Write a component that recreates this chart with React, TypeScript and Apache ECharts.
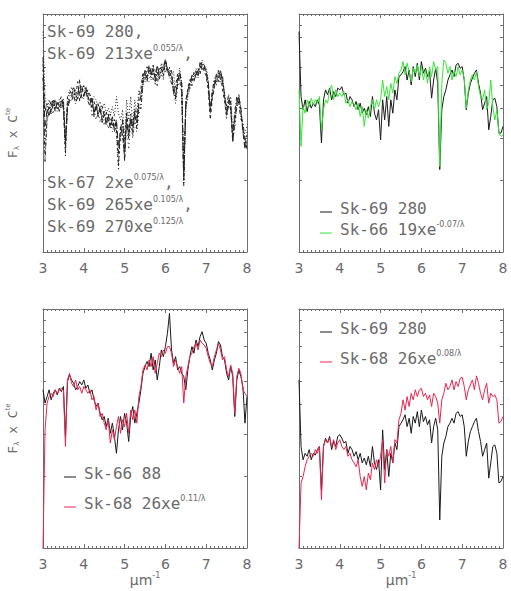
import React, { useEffect, useRef } from "react";
import * as echarts from "echarts";

// Wavenumber grid (μm^-1)
const waveNumber = [
  3.0, 3.05, 3.1, 3.15, 3.2, 3.25, 3.3, 3.35, 3.4, 3.45,
  3.5, 3.55, 3.6, 3.65, 3.7, 3.75, 3.8, 3.85, 3.9, 3.95,
  4.0, 4.05, 4.1, 4.15, 4.2, 4.25, 4.3, 4.35, 4.4, 4.45,
  4.5, 4.55, 4.6, 4.65, 4.7, 4.75, 4.8, 4.85, 4.9, 4.95,
  5.0, 5.05, 5.1, 5.15, 5.2, 5.25, 5.3, 5.35, 5.4, 5.45,
  5.5, 5.55, 5.6, 5.65, 5.7, 5.75, 5.8, 5.85, 5.9, 5.95,
  6.0, 6.05, 6.1, 6.15, 6.2, 6.25, 6.3, 6.35, 6.4, 6.45,
  6.5, 6.55, 6.6, 6.65, 6.7, 6.75, 6.8, 6.85, 6.9, 6.95,
  7.0, 7.05, 7.1, 7.15, 7.2, 7.25, 7.3, 7.35, 7.4, 7.45,
  7.5, 7.55, 7.6, 7.65, 7.7, 7.75, 7.8, 7.85, 7.9, 7.95,
  8.0,
];

// Panel 1 & 2: Sk-69 280
const sk69_280 = [
  8.43, 4.5, 3.96, 4.36, 3.89, 4.29, 4.02, 4.22, 4.08, 4.36,
  4.15, 2.87, 4.36, 4.8, 4.58, 4.88, 4.36, 4.72, 4.5, 4.88,
  4.8, 4.95, 4.58, 4.65, 4.22, 4.5, 4.36, 4.08, 4.29, 3.96,
  4.22, 3.83, 4.02, 3.77, 4.08, 3.71, 4.5, 3.83, 3.59, 3.96,
  2.96, 4.36, 3.59, 4.5, 3.37, 4.36, 3.83, 4.8, 4.36, 5.46,
  5.55, 5.73, 6.01, 5.28, 5.82, 5.03, 6.01, 5.46, 6.21, 5.28,
  6.31, 5.64, 5.92, 5.46, 5.73, 4.43, 5.28, 5.92, 5.11, 2.22,
  3.96, 4.5, 4.8, 5.28, 5.55, 5.82, 5.46, 6.11, 6.21, 5.92,
  6.01, 5.28, 3.96, 4.65, 5.11, 5.37, 5.64, 5.82, 5.11, 4.65,
  3.96, 4.22, 4.5, 3.26, 3.71, 4.36, 4.43, 4.08, 3.16, 3.16,
  3.37,
];

// Panel 1 comparison stars
const sk69_213 = [
  6.2, 3.9, 4.2, 4.0, 4.3, 4.1, 4.4, 4.0, 4.3, 4.5,
  4.2, 2.6, 4.5, 4.6, 4.9, 4.7, 4.5, 5.2, 4.3, 4.7,
  5.0, 4.6, 4.8, 4.4, 4.0, 4.3, 3.9, 4.2, 3.8, 4.1,
  3.7, 3.9, 3.5, 3.8, 3.4, 3.6, 3.3, 2.3, 3.4, 3.1,
  2.5, 3.9, 3.2, 3.8, 3.4, 4.0, 3.6, 4.4, 4.9, 5.7,
  5.3, 6.0, 5.6, 5.9, 5.3, 5.6, 5.0, 5.8, 6.0, 5.5,
  6.4, 5.9, 5.4, 5.8, 4.6, 5.0, 5.6, 5.2, 4.7, 2.0,
  4.2, 4.9, 5.3, 5.0, 5.7, 5.4, 5.9, 5.6, 6.1, 5.7,
  5.5, 4.8, 3.6, 4.4, 4.9, 5.5, 5.2, 5.6, 4.8, 4.3,
  3.7, 4.4, 4.1, 2.9, 3.5, 4.1, 4.6, 3.8, 3.3, 2.8,
  3.1,
];
const sk67_2 = [
  5.4, 2.4, 3.7, 4.1, 3.8, 4.2, 3.9, 4.3, 4.1, 4.0,
  4.4, 3.0, 4.1, 4.4, 4.3, 4.6, 4.2, 4.5, 5.3, 4.4,
  4.6, 4.8, 4.3, 4.1, 4.4, 3.7, 4.1, 3.8, 4.0, 3.6,
  3.9, 3.5, 3.7, 3.3, 3.6, 3.2, 3.5, 2.8, 3.0, 3.5,
  2.4, 3.6, 3.0, 3.7, 3.1, 3.9, 3.3, 4.1, 4.0, 5.1,
  5.6, 5.2, 5.8, 5.5, 6.1, 5.2, 5.7, 5.3, 5.8, 6.2,
  5.7, 6.0, 5.5, 5.1, 4.8, 4.4, 5.4, 5.6, 5.0, 1.9,
  4.4, 4.6, 5.0, 5.4, 5.2, 5.7, 5.4, 6.3, 5.8, 6.0,
  5.6, 5.0, 4.0, 4.8, 5.3, 5.0, 5.8, 5.3, 5.5, 4.5,
  4.1, 4.6, 3.9, 3.1, 3.9, 4.5, 4.2, 3.6, 3.5, 3.0,
  2.7,
];
const sk69_265 = [
  5.8, 2.7, 3.5, 3.9, 4.0, 3.8, 4.2, 3.9, 4.4, 4.1,
  4.3, 2.5, 4.2, 4.5, 4.7, 4.4, 4.8, 4.6, 4.9, 4.5,
  4.4, 4.7, 4.4, 4.6, 3.7, 4.0, 3.6, 3.9, 3.5, 3.8,
  3.4, 3.7, 3.3, 3.6, 3.2, 3.5, 3.1, 2.2, 3.2, 3.0,
  2.6, 3.4, 2.7, 3.5, 3.0, 3.6, 3.2, 3.8, 4.2, 5.0,
  5.2, 5.5, 5.2, 5.8, 5.6, 5.9, 5.3, 5.9, 5.5, 6.0,
  6.2, 5.7, 6.0, 5.3, 4.7, 4.2, 4.9, 5.4, 4.9, 1.95,
  4.0, 4.7, 5.2, 5.6, 5.3, 5.9, 5.6, 5.8, 6.4, 5.9,
  5.8, 5.1, 3.8, 4.6, 5.4, 5.2, 5.5, 5.1, 5.4, 4.4,
  3.6, 4.3, 4.0, 3.0, 3.3, 4.0, 4.4, 3.9, 3.4, 2.9,
  3.2,
];
const sk69_270 = [
  6.6, 3.2, 4.0, 3.7, 4.1, 4.4, 4.0, 4.2, 3.9, 4.3,
  4.0, 2.8, 4.0, 4.3, 4.5, 4.9, 4.6, 4.4, 4.7, 5.0,
  4.5, 4.9, 4.5, 4.2, 4.5, 3.8, 4.2, 3.7, 4.1, 3.5,
  3.8, 3.4, 3.8, 3.4, 3.7, 3.3, 3.6, 2.6, 3.3, 3.6,
  2.7, 3.7, 3.1, 3.6, 3.3, 3.8, 3.5, 4.2, 4.5, 5.3,
  5.8, 5.4, 6.1, 5.6, 5.9, 5.4, 6.1, 5.6, 5.7, 5.8,
  6.5, 5.8, 5.7, 5.5, 5.0, 4.5, 5.1, 5.7, 5.1, 2.1,
  4.1, 4.8, 5.1, 5.5, 5.5, 5.6, 5.8, 5.9, 6.3, 6.1,
  5.7, 5.2, 3.9, 4.5, 5.0, 5.6, 5.4, 5.8, 5.2, 4.6,
  3.8, 4.1, 4.3, 2.9, 3.6, 4.2, 4.5, 4.0, 3.2, 2.7,
  3.0,
];

// Panel 2: Sk-66 19
const sk66_19 = [
  4.8, 2.78, 4.08, 3.83, 4.36, 4.08, 4.43, 4.15, 4.36, 4.22,
  4.5, 3.26, 3.96, 4.36, 4.22, 4.8, 5.03, 4.36, 4.8, 4.5,
  4.65, 4.5, 4.72, 4.22, 4.36, 4.08, 4.29, 4.15, 3.96, 4.22,
  3.71, 4.08, 3.37, 3.96, 3.65, 4.08, 4.36, 3.96, 4.36, 4.08,
  4.36, 5.28, 4.5, 4.95, 4.36, 5.11, 4.65, 5.46, 5.11, 5.64,
  5.82, 6.31, 5.55, 6.21, 5.73, 5.2, 5.92, 5.64, 6.11, 5.46,
  6.01, 5.28, 5.82, 5.11, 6.01, 5.46, 6.31, 5.82, 6.01, 2.29,
  5.11, 6.41, 6.21, 5.64, 6.01, 5.28, 5.73, 5.46, 6.01, 5.55,
  5.82, 5.37, 4.02, 4.8, 5.28, 5.55, 5.28, 5.73, 4.95, 4.5,
  4.36, 4.8, 3.96, 4.22, 5.28, 4.08, 3.59, 3.96, 3.16, 3.06,
  3.11,
];

// Panel 3: Sk-66 88 and Sk-68 26 (x e^{0.11/λ})
const sk66_88 = [
  4.59, 4.04, 4.3, 4.59, 4.17, 4.44, 4.59, 4.37, 4.66, 4.51,
  4.74, 2.93, 4.97, 5.3, 5.05, 4.89, 4.59, 4.74, 4.97, 4.81,
  5.05, 4.66, 4.81, 4.44, 4.59, 4.17, 3.91, 4.04, 3.66, 3.44,
  3.55, 3.22, 3.49, 3.02, 3.33, 2.93, 2.49, 3.12, 3.55, 3.12,
  3.66, 3.33, 2.79, 3.55, 3.91, 3.33, 3.66, 4.04, 4.59, 5.38,
  5.74, 6.03, 5.74, 6.53, 5.56, 6.12, 5.05, 5.74, 6.74, 6.32,
  6.96, 7.91, 9.59, 6.74, 5.93, 6.32, 5.56, 5.74, 5.38, 5.22,
  4.59, 5.56, 6.32, 6.96, 6.53, 7.42, 6.96, 7.66, 8.04, 7.42,
  7.19, 6.53, 6.12, 5.56, 6.12, 6.53, 7.31, 7.07, 6.32, 6.12,
  5.38, 5.05, 5.74, 5.22, 3.55, 5.05, 5.56, 5.22, 4.74, 3.33,
  4.3,
];
const sk68_26_p3 = [
  1.0, 3.12, 4.04, 4.3, 4.44, 4.3, 4.59, 4.44, 4.59, 4.66,
  4.59, 2.66, 5.05, 5.38, 4.89, 4.74, 5.05, 4.59, 4.74, 4.44,
  4.74, 4.59, 4.44, 4.59, 4.17, 4.3, 3.78, 4.04, 3.55, 3.66,
  3.33, 3.12, 3.44, 2.75, 3.12, 2.84, 3.22, 3.55, 3.02, 3.44,
  3.22, 3.66, 3.02, 3.78, 3.44, 3.78, 3.33, 4.3, 4.74, 5.56,
  5.83, 5.56, 6.12, 5.74, 6.32, 5.38, 5.93, 6.53, 6.32, 6.74,
  6.53, 6.96, 6.96, 6.53, 5.74, 6.12, 5.74, 5.38, 5.74, 4.04,
  5.22, 5.74, 6.32, 6.53, 6.96, 7.19, 6.74, 7.42, 7.19, 7.07,
  6.85, 6.32, 5.93, 5.74, 6.32, 6.74, 7.19, 6.74, 6.12, 6.32,
  5.56, 5.22, 5.83, 5.38, 3.66, 5.22, 5.65, 5.38, 4.59, 4.44,
  4.3,
];

// Panel 4: Sk-69 280 and Sk-68 26 (x e^{0.08/λ})
const sk69_280_p4 = [
  5.05, 2.66, 2.34, 2.49, 2.42, 2.58, 2.34, 2.49, 2.45, 2.58,
  2.66, 1.75, 2.66, 2.88, 2.75, 2.93, 2.58, 2.79, 2.66, 2.93,
  2.98, 2.88, 2.75, 2.79, 2.49, 2.66, 2.58, 2.42, 2.53, 2.34,
  2.49, 2.27, 2.38, 2.23, 2.42, 2.19, 2.66, 2.27, 2.13, 2.34,
  1.75, 3.12, 2.13, 2.58, 1.99, 2.49, 2.27, 2.75, 2.58, 3.22,
  3.33, 3.44, 3.61, 3.22, 3.49, 3.02, 3.55, 3.33, 3.72, 3.22,
  3.78, 3.38, 3.55, 3.28, 3.44, 2.75, 3.22, 3.49, 3.12, 1.31,
  2.42, 2.75, 2.93, 3.22, 3.33, 3.49, 3.33, 3.66, 3.72, 3.55,
  3.61, 3.22, 2.42, 2.79, 3.07, 3.22, 3.38, 3.49, 3.07, 2.79,
  2.42, 2.58, 2.75, 1.96, 2.27, 2.66, 2.7, 2.49, 1.87, 1.9,
  1.99,
];
const sk68_26_p4 = [
  1.0, 1.87, 1.99, 2.19, 2.34, 2.42, 2.49, 2.42, 2.58, 2.49,
  2.66, 1.59, 2.66, 2.84, 2.75, 2.88, 2.66, 2.84, 2.58, 2.75,
  2.84, 2.66, 2.58, 2.66, 2.42, 2.49, 2.34, 2.27, 2.19, 2.34,
  1.99, 1.81, 1.99, 1.75, 2.06, 1.93, 2.27, 2.13, 2.34, 2.19,
  2.42, 2.84, 1.87, 2.58, 2.42, 2.66, 2.27, 2.84, 2.75, 3.44,
  3.66, 4.17, 3.78, 4.3, 3.91, 4.44, 4.17, 4.59, 4.3, 4.59,
  4.66, 4.3, 4.44, 4.17, 4.37, 3.91, 4.44, 4.3, 4.04, 3.33,
  4.17, 4.44, 4.89, 4.59, 4.74, 5.05, 4.59, 4.97, 4.74, 5.13,
  5.18, 4.74, 4.17, 4.59, 4.81, 5.05, 4.59, 5.25, 4.89, 4.44,
  4.17, 4.59, 4.89, 4.04, 4.44, 4.3, 4.37, 4.17, 3.33, 3.38,
  3.55,
];

const xTicks = [3, 4, 5, 6, 7, 8];

const AXIS_COLOR = "#6e6e6e";
const TEXT_COLOR = "#6a6a6a";
const FONT = "DejaVu Sans";
const LABEL_FONT = "DejaVu Sans Mono";
const BLACK = "#1a1a1a";
const GREEN = "#36e636";
const RED = "#e8264f";

const grids = [
  { left: 43, top: 14, width: 204, height: 238 },
  { left: 299, top: 14, width: 204, height: 238 },
  { left: 43, top: 309, width: 204, height: 239 },
  { left: 299, top: 309, width: 204, height: 239 },
];

const pairs = (ys: number[]) => waveNumber.map((x, i) => [x, ys[i]]);

function makeXAxes(gi: number, withName: boolean) {
  const common: any = {
    type: "value",
    gridIndex: gi,
    min: xTicks[0],
    max: xTicks[xTicks.length - 1],
    interval: 1,
    axisLine: { show: true, onZero: false, lineStyle: { color: AXIS_COLOR, width: 1 } },
    axisTick: { show: true, inside: true, length: 4, lineStyle: { color: AXIS_COLOR } },
    minorTick: { show: true, splitNumber: 10, length: 2, lineStyle: { color: AXIS_COLOR } },
    splitLine: { show: false },
  };
  return [
    {
      ...common,
      position: "bottom",
      axisLabel: { show: true, color: TEXT_COLOR, fontSize: 14, fontFamily: FONT, margin: 9 },
      name: withName ? "{a|μm}{s|-1}" : "",
      nameLocation: "middle",
      nameGap: 22,
      nameTextStyle: {
        rich: {
          a: { fontSize: 14, fontFamily: FONT, color: TEXT_COLOR, lineHeight: 16 },
          s: { fontSize: 8, fontFamily: FONT, color: TEXT_COLOR, lineHeight: 9, verticalAlign: "top" },
        },
      },
    },
    { ...common, position: "top", axisLabel: { show: false } },
  ];
}

function makeYAxes(gi: number, withName: boolean) {
  const common: any = {
    type: "log",
    logBase: 10,
    gridIndex: gi,
    min: 1,
    max: 10,
    axisLine: { show: true, onZero: false, lineStyle: { color: AXIS_COLOR, width: 1 } },
    axisTick: { show: false, inside: true, length: 3 },
    minorTick: { show: true, splitNumber: 9, length: 3, lineStyle: { color: AXIS_COLOR } },
    axisLabel: { show: false },
    splitLine: { show: false },
  };
  return [
    {
      ...common,
      position: "left",
      name: withName ? "{a|F}{b|λ}{a| x C}{c|te}" : "",
      nameLocation: "middle",
      nameGap: 23,
      nameTextStyle: {
        rich: {
          a: { fontSize: 13, fontFamily: LABEL_FONT, color: TEXT_COLOR, lineHeight: 16 },
          b: { fontSize: 7, fontFamily: FONT, color: TEXT_COLOR, lineHeight: 8, verticalAlign: "bottom" },
          c: { fontSize: 7, fontFamily: FONT, color: TEXT_COLOR, lineHeight: 8, verticalAlign: "top" },
        },
      },
    },
    { ...common, position: "right" },
  ];
}

function line(name: string, gi: number, ys: number[], color: string, type: any = "solid", z = 2) {
  return {
    type: "line",
    name,
    xAxisIndex: 2 * gi,
    yAxisIndex: 2 * gi,
    data: pairs(ys),
    showSymbol: false,
    symbol: "none",
    clip: true,
    z,
    lineStyle: { color, width: 1, type },
  };
}

const labelRich = {
  a: { fontSize: 16, fontFamily: LABEL_FONT, fill: TEXT_COLOR, lineHeight: 18 },
  s: { fontSize: 8, fontFamily: FONT, fill: TEXT_COLOR, lineHeight: 10, verticalAlign: "top" },
};

function label(x: number, baseline: number, text: string) {
  return {
    type: "text",
    x,
    y: baseline - 5,
    z: 100,
    style: {
      text,
      rich: labelRich,
      fontSize: 16,
      fontFamily: LABEL_FONT,
      fill: TEXT_COLOR,
      align: "left",
      verticalAlign: "middle",
    },
  };
}

function key(panelLeft: number, baseline: number, color: string) {
  return {
    type: "line",
    z: 100,
    shape: { x1: panelLeft + 21, y1: baseline - 1, x2: panelLeft + 33, y2: baseline - 1 },
    style: { stroke: color, lineWidth: 1 },
  };
}

const option: any = {
  animation: false,
  backgroundColor: "#fff",
  grid: grids.map((g) => ({ ...g, containLabel: false })),
  xAxis: [
    ...makeXAxes(0, false),
    ...makeXAxes(1, false),
    ...makeXAxes(2, true),
    ...makeXAxes(3, true),
  ],
  yAxis: [
    ...makeYAxes(0, true),
    ...makeYAxes(1, false),
    ...makeYAxes(2, true),
    ...makeYAxes(3, false),
  ],
  series: [
    line("Sk-69 280", 0, sk69_280, "#222", [1, 2]),
    line("Sk-69 213", 0, sk69_213, "#222", [3, 3]),
    line("Sk-67 2", 0, sk67_2, "#222", [4, 2, 1, 2]),
    line("Sk-69 265", 0, sk69_265, "#222", [1, 3]),
    line("Sk-69 270", 0, sk69_270, "#222", [6, 3]),
    line("Sk-69 280", 1, sk69_280, BLACK),
    line("Sk-66 19", 1, sk66_19, GREEN, "solid", 3),
    line("Sk-66 88", 2, sk66_88, BLACK),
    line("Sk-68 26", 2, sk68_26_p3, RED, "solid", 3),
    line("Sk-69 280", 3, sk69_280_p4, BLACK),
    line("Sk-68 26", 3, sk68_26_p4, RED, "solid", 3),
  ],
  graphic: [
    label(47, 36, "{a|Sk-69 280,}"),
    label(47, 58, "{a|Sk-69 213xe}{s|0.055/λ}{a|,}"),
    label(47, 187, "{a|Sk-67 2xe}{s|0.075/λ}{a|,}"),
    label(47, 209, "{a|Sk-69 265xe}{s|0.105/λ}{a|,}"),
    label(47, 231, "{a|Sk-69 270xe}{s|0.125/λ}"),
    key(299, 213, BLACK),
    label(340, 213, "{a|Sk-69 280}"),
    key(299, 234, GREEN),
    label(340, 234, "{a|Sk-66 19xe}{s|-0.07/λ}"),
    key(43, 478, BLACK),
    label(84, 478, "{a|Sk-66 88}"),
    key(43, 508, RED),
    label(84, 508, "{a|Sk-68 26xe}{s|0.11/λ}"),
    key(299, 333, BLACK),
    label(340, 333, "{a|Sk-69 280}"),
    key(299, 363, RED),
    label(340, 363, "{a|Sk-68 26xe}{s|0.08/λ}"),
  ],
};

export default function App() {
  const ref = useRef<HTMLDivElement>(null);
  useEffect(() => {
    if (!ref.current) return;
    const chart = echarts.init(ref.current, undefined, { renderer: "svg" });
    chart.setOption(option);
    return () => chart.dispose();
  }, []);
  return (
    <div
      ref={ref}
      style={{ position: "fixed", left: 0, top: 0, width: 511, height: 591, background: "#fff" }}
    />
  );
}
